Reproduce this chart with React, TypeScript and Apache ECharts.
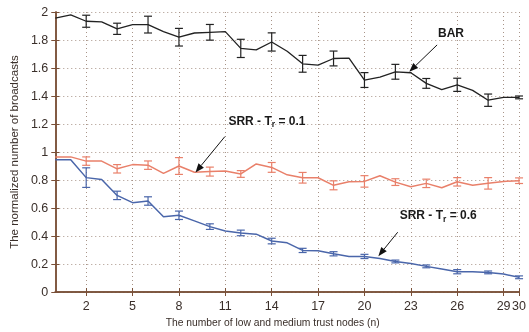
import React, { useEffect, useRef } from "react";
import * as echarts from "echarts";

// x positions (number of low and medium trust nodes)
const nodes = [0,1,2,3,4,5,6,7,8,9,10,11,12,13,14,15,16,17,18,19,20,21,22,23,24,25,26,27,28,29,30];
const xTickLabels = [2, 5, 8, 11, 14, 17, 20, 23, 26, 29, 30];

const barValues = [1.957,1.98,1.934,1.93,1.88,1.91,1.91,1.86,1.82,1.85,1.855,1.86,1.74,1.73,1.786,1.72,1.63,1.62,1.668,1.67,1.514,1.535,1.573,1.566,1.49,1.445,1.48,1.44,1.37,1.39,1.39];
const srr01Values = [0.965,0.965,0.935,0.935,0.88,0.91,0.906,0.847,0.9,0.855,0.86,0.865,0.843,0.915,0.89,0.837,0.816,0.816,0.762,0.787,0.79,0.83,0.785,0.752,0.776,0.745,0.787,0.762,0.776,0.79,0.795];
const srr06Values = [0.945,0.945,0.817,0.804,0.69,0.638,0.65,0.538,0.548,0.508,0.467,0.436,0.422,0.413,0.364,0.351,0.297,0.295,0.273,0.254,0.254,0.24,0.218,0.204,0.183,0.164,0.145,0.145,0.14,0.128,0.105];

// error bars (half widths) at these nodes
const errNodes = [2,4,6,8,10,12,14,16,18,20,22,24,26,28,30];
const barErr = [0.043,0.04,0.06,0.063,0.056,0.065,0.065,0.06,0.053,0.053,0.053,0.035,0.047,0.044,0.01];
const srr01Err = [0.03,0.03,0.03,0.06,0.032,0.024,0.035,0.038,0.032,0.041,0.024,0.03,0.03,0.041,0.02];
const srr06Err = [0.07,0.03,0.03,0.03,0.02,0.02,0.02,0.015,0.015,0.015,0.01,0.01,0.015,0.01,0.01];

const FONT = 'Arial, "Liberation Sans", Helvetica, sans-serif';
const AXIS_COLOR = "#7a5038";
const GRID_COLOR = "#a89488";
const TEXT_COLOR = "#3a2f2a";
const BAR_COLOR = "#222222";
const SRR01_COLOR = "#e9806a";
const SRR06_COLOR = "#4a66aa";

// annotations in data coordinates
const annotations = [
  { label: "BAR", sub: "", tail: "", text: [25.6, 1.85], align: "center", from: [24.7, 1.765], to: [22.9, 1.573] },
  { label: "SRR - T", sub: "r", tail: " = 0.1", text: [11.2, 1.224], align: "left", from: [10.97, 1.11], to: [9.07, 0.854] },
  { label: "SRR - T", sub: "r", tail: " = 0.6", text: [22.28, 0.548], align: "left", from: [22.15, 0.427], to: [20.9, 0.256] },
];

function errorSeries(name: string, values: number[], errs: number[], color: string) {
  const data = errNodes.map((n, i) => [n, values[nodes.indexOf(n)] - errs[i], values[nodes.indexOf(n)] + errs[i]]);
  return {
    type: "custom",
    name: name + " err",
    data,
    encode: { x: 0, y: [1, 2] },
    clip: false,
    silent: true,
    z: 3,
    renderItem: (params: any, api: any) => {
      const x = api.value(0);
      const p1 = api.coord([x, api.value(1)]);
      const p2 = api.coord([x, api.value(2)]);
      const w = 4;
      const style = { stroke: color, lineWidth: 1.2, fill: null };
      return {
        type: "group",
        children: [
          { type: "line", shape: { x1: p1[0], y1: p1[1], x2: p2[0], y2: p2[1] }, style },
          { type: "line", shape: { x1: p1[0] - w, y1: p1[1], x2: p1[0] + w, y2: p1[1] }, style },
          { type: "line", shape: { x1: p2[0] - w, y1: p2[1], x2: p2[0] + w, y2: p2[1] }, style },
        ],
      };
    },
  };
}

function lineSeries(name: string, values: number[], color: string, width: number) {
  return {
    type: "line",
    name,
    data: nodes.map((n, i) => [n, values[i]]),
    symbol: "none",
    lineStyle: { color, width },
    itemStyle: { color },
    z: 4,
  };
}

export default function App() {
  const ref = useRef<HTMLDivElement>(null);
  useEffect(() => {
    if (!ref.current) return;
    const chart = echarts.init(ref.current, undefined, { renderer: "svg" });
    const xBase = {
      type: "value",
      min: 0,
      max: 30,
      axisLine: { show: true, lineStyle: { color: AXIS_COLOR, width: 1.5 } },
    };
    const yBase = {
      type: "value",
      min: 0,
      max: 2,
      interval: 0.2,
      axisLine: { show: true, lineStyle: { color: AXIS_COLOR, width: 1.5 } },
    };
    chart.setOption({
      animation: false,
      textStyle: { fontFamily: FONT },
      grid: { left: 49.5, right: 5, top: 12, bottom: 39, containLabel: false },
      xAxis: [
        {
          ...xBase,
          position: "bottom",
          name: "The number of low and medium trust nodes (n)",
          nameLocation: "middle",
          nameGap: 25,
          nameTextStyle: { fontSize: 10.3, color: TEXT_COLOR, fontFamily: FONT, padding: [0, 29, 0, 0] },
          axisTick: { show: true, inside: true, length: 4, customValues: xTickLabels, lineStyle: { color: AXIS_COLOR } },
          axisLabel: { show: true, customValues: xTickLabels, fontSize: 12.5, color: TEXT_COLOR, margin: 7, fontFamily: FONT },
          splitLine: { show: true, lineStyle: { color: GRID_COLOR, type: [1, 3], width: 1 } },
        },
        {
          ...xBase,
          position: "top",
          axisTick: { show: true, inside: true, length: 4, customValues: xTickLabels, lineStyle: { color: AXIS_COLOR } },
          axisLabel: { show: false },
          splitLine: { show: false },
        },
      ],
      yAxis: [
        {
          ...yBase,
          position: "left",
          name: "The normalized number of broadcasts",
          nameLocation: "middle",
          nameGap: 25,
          nameTextStyle: { fontSize: 11.5, color: TEXT_COLOR, fontFamily: FONT },
          axisTick: { show: true, inside: true, length: 4, lineStyle: { color: AXIS_COLOR } },
          axisLabel: { show: true, fontSize: 12.5, color: TEXT_COLOR, margin: 7, fontFamily: FONT },
          splitLine: { show: true, lineStyle: { color: GRID_COLOR, type: [1, 3], width: 1 } },
        },
        {
          ...yBase,
          position: "right",
          axisTick: { show: true, inside: true, length: 4, lineStyle: { color: AXIS_COLOR } },
          axisLabel: { show: false },
          splitLine: { show: false },
        },
      ],
      series: [
        lineSeries("BAR", barValues, BAR_COLOR, 1.3),
        lineSeries("SRR - Tr = 0.1", srr01Values, SRR01_COLOR, 1.5),
        lineSeries("SRR - Tr = 0.6", srr06Values, SRR06_COLOR, 1.5),
        errorSeries("BAR", barValues, barErr, BAR_COLOR),
        errorSeries("SRR - Tr = 0.1", srr01Values, srr01Err, SRR01_COLOR),
        errorSeries("SRR - Tr = 0.6", srr06Values, srr06Err, SRR06_COLOR),
      ],
    });

    const px = (p: number[]) => chart.convertToPixel({ xAxisIndex: 0, yAxisIndex: 0 }, p) as number[];
    const elements: any[] = [];
    annotations.forEach((a) => {
      const t = px(a.text);
      const s = px(a.from);
      const e = px(a.to);
      const dx = e[0] - s[0];
      const dy = e[1] - s[1];
      const len = Math.sqrt(dx * dx + dy * dy);
      const ux = dx / len;
      const uy = dy / len;
      const L = 9;
      const H = 3.5;
      const bx = e[0] - ux * L;
      const by = e[1] - uy * L;
      elements.push({
        type: "line",
        shape: { x1: s[0], y1: s[1], x2: bx, y2: by },
        style: { stroke: "#111", lineWidth: 1 },
        z: 10,
      });
      elements.push({
        type: "polygon",
        shape: { points: [[e[0], e[1]], [bx - uy * H, by + ux * H], [bx + uy * H, by - ux * H]] },
        style: { fill: "#111" },
        z: 10,
      });
      const rich = a.sub
        ? `{a|${a.label}}{s|${a.sub}}{a|${a.tail}}`
        : `{a|${a.label}}`;
      elements.push({
        type: "text",
        x: t[0],
        y: t[1],
        z: 10,
        style: {
          text: rich,
          align: a.align,
          verticalAlign: "middle",
          fill: "#1a1a1a",
          rich: {
            a: { fontSize: 12, fontWeight: "bold", fontFamily: FONT, fill: "#1a1a1a", color: "#1a1a1a" },
            s: { fontSize: 8.5, fontWeight: "bold", fontFamily: FONT, padding: [7, 0, 0, 0], fill: "#1a1a1a", color: "#1a1a1a" },
          },
        },
      });
    });
    chart.setOption({ graphic: { elements } });

    return () => chart.dispose();
  }, []);
  return <div ref={ref} style={{ position: "fixed", left: 0, top: 0, width: 529, height: 332 }} />;
}
